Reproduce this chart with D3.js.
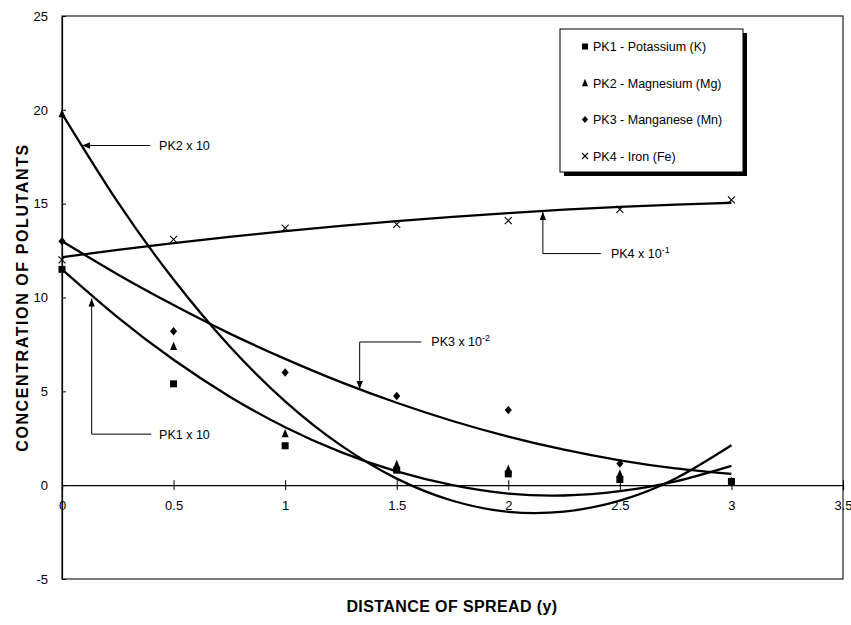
<!DOCTYPE html>
<html><head><meta charset="utf-8">
<script src="https://cdn.jsdelivr.net/npm/d3@7"></script>
<style>body{margin:0;background:#fff}svg{display:block}</style>
</head><body><svg id="c" width="851" height="625"></svg>
<script>
// ---- data ----
const xValues = [0, 0.5, 1, 1.5, 2, 2.5, 3];
const pk1Potassium = [11.5, 5.4, 2.1, 0.8, 0.6, 0.3, 0.2];
const pk2Magnesium = [19.8, 7.4, 2.75, 1.1, 0.85, 0.6, 0.2];
const pk3Manganese = [13.0, 8.2, 6.0, 4.75, 4.0, 1.15, 0.2];
const pk4Iron = [12.0, 13.1, 13.7, 13.9, 14.1, 14.7, 15.2];

// trendlines
const trendX = [0, 0.25, 0.5, 0.75, 1, 1.25, 1.5, 1.75, 2, 2.25, 2.5, 2.75, 3];
const trendPk1 = [11.5, 8.94, 6.68, 4.73, 3.09, 1.76, 0.73, 0.0, -0.45, -0.55, -0.32, 0.2, 1.03];
const trendPk2 = [19.8, 15.08, 10.96, 7.42, 4.47, 2.12, 0.35, -0.83, -1.42, -1.41, -0.82, 0.36, 2.13];
const trendPk3 = [13.0, 11.23, 9.6, 8.09, 6.73, 5.49, 4.39, 3.42, 2.59, 1.89, 1.32, 0.89, 0.6];
const trendPk4 = [12.15, 12.54, 12.9, 13.23, 13.54, 13.82, 14.07, 14.3, 14.5, 14.68, 14.83, 14.95, 15.05];

const xTicks = [0, 0.5, 1, 1.5, 2, 2.5, 3, 3.5];
const yTicks = [-5, 0, 5, 10, 15, 20, 25];
const seriesNames = ["PK1 - Potassium (K)", "PK2 - Magnesium (Mg)", "PK3 - Manganese (Mn)", "PK4 - Iron (Fe)"];
const seriesShapes = ["square", "triangle", "diamond", "cross"];
const xTitle = "DISTANCE OF SPREAD (y)";
const yTitle = "CONCENTRATION OF POLUTANTS";

const annoLabels = ["PK2 x 10", "PK1 x 10", "PK3 x 10", "PK4 x 10"];
const annoSups = ["", "", "-2", "-1"];

// ---- layout ----
const svg = d3.select("#c");
const font = "'Liberation Sans', Arial, sans-serif";
const x = d3.scaleLinear().domain([0, 3.5]).range([62, 843]);
const y = d3.scaleLinear().domain([-5, 25]).range([579, 16]);

// frame
svg.append("rect").attr("x", x(0)).attr("y", y(25)).attr("width", x(3.5) - x(0)).attr("height", y(-5) - y(25))
  .attr("fill", "none").attr("stroke", "#222").attr("stroke-width", 1.2);

// y axis
const yAxis = d3.axisLeft(y).tickValues(yTicks).tickSize(-4).tickPadding(14).tickFormat(d => String(d));
const gy = svg.append("g").attr("transform", `translate(${x(0)},0)`).call(yAxis);
gy.select(".domain").attr("stroke", "#000").attr("stroke-width", 1.2);
gy.selectAll(".tick line").attr("stroke", "#000");
gy.selectAll("text").attr("font-family", font).attr("font-size", 13).attr("fill", "#000");

// x axis at y=0
const xAxis = d3.axisBottom(x).tickValues(xTicks).tickSize(5).tickPadding(11).tickFormat(d => String(d));
const gx = svg.append("g").attr("transform", `translate(0,${y(0)})`).call(xAxis);
gx.select(".domain").attr("stroke", "#000").attr("stroke-width", 1.2);
gx.selectAll(".tick line").attr("stroke", "#000").attr("y1", -5);
gx.selectAll("text").attr("font-family", font).attr("font-size", 13).attr("fill", "#000");

// titles
svg.append("text").attr("x", 452).attr("y", 612).attr("text-anchor", "middle")
  .attr("font-family", font).attr("font-weight", "bold").attr("font-size", 16).attr("letter-spacing", 0.4)
  .text(xTitle);
svg.append("text").attr("transform", `translate(28,${(y(25) + y(-5)) / 2}) rotate(-90)`).attr("text-anchor", "middle")
  .attr("font-family", font).attr("font-weight", "bold").attr("font-size", 16).attr("letter-spacing", 1.6)
  .text(yTitle);

// trendlines
const line = d3.line().x(d => x(d[0])).y(d => y(d[1])).curve(d3.curveNatural);
[trendPk1, trendPk2, trendPk3, trendPk4].forEach(t => {
  svg.append("path").datum(trendX.map((v, i) => [v, t[i]])).attr("d", line)
    .attr("fill", "none").attr("stroke", "#000").attr("stroke-width", 2.3);
});

// markers
function drawMarker(g, shape, cx, cy, s) {
  if (shape === "square") {
    g.append("rect").attr("x", cx - s / 2).attr("y", cy - s / 2).attr("width", s).attr("height", s).attr("fill", "#000");
  } else if (shape === "triangle") {
    const h = s * 1.05;
    g.append("path").attr("d", `M${cx},${cy - h / 2 - 1}L${cx + s / 2},${cy + h / 2}L${cx - s / 2},${cy + h / 2}Z`).attr("fill", "#000");
  } else if (shape === "diamond") {
    const r = s * 0.6;
    g.append("path").attr("d", `M${cx},${cy - r}L${cx + r * 0.85},${cy}L${cx},${cy + r}L${cx - r * 0.85},${cy}Z`).attr("fill", "#000");
  } else {
    const r = s / 2;
    g.append("path").attr("d", `M${cx - r},${cy - r}L${cx + r},${cy + r}M${cx + r},${cy - r}L${cx - r},${cy + r}`)
      .attr("stroke", "#000").attr("stroke-width", 1.1).attr("fill", "none");
  }
}
const mg = svg.append("g");
[pk1Potassium, pk2Magnesium, pk3Manganese, pk4Iron].forEach((vals, si) => {
  vals.forEach((v, i) => drawMarker(mg, seriesShapes[si], x(xValues[i]), y(v), 7));
});

// annotations (data units)
const annoGeom = [
  { tip: [0.09, 18.1], corner: null, end: [0.395, 18.1], text: [0.435, 18.1] },
  { tip: [0.133, 9.95], corner: [0.133, 2.72], end: [0.4, 2.72], text: [0.435, 2.72] },
  { tip: [1.334, 5.12], corner: [1.334, 7.63], end: [1.61, 7.63], text: [1.655, 7.63] },
  { tip: [2.155, 14.55], corner: [2.155, 12.34], end: [2.415, 12.34], text: [2.46, 12.34] }
];
const ag = svg.append("g");
annoGeom.forEach((a, i) => {
  const pts = [a.tip, a.corner, a.end].filter(p => p).map(p => [x(p[0]), y(p[1])]);
  ag.append("path").attr("d", "M" + pts.map(p => p.join(",")).join("L")).attr("fill", "none")
    .attr("stroke", "#000").attr("stroke-width", 1);
  const [tx, ty] = pts[0], [nx, ny] = pts[1];
  const ang = Math.atan2(ny - ty, nx - tx);
  const L = 8, W = 3.2;
  const bx = tx + L * Math.cos(ang), by = ty + L * Math.sin(ang);
  ag.append("path").attr("d", `M${tx},${ty}L${bx - W * Math.sin(ang)},${by + W * Math.cos(ang)}L${bx + W * Math.sin(ang)},${by - W * Math.cos(ang)}Z`)
    .attr("fill", "#000");
  const t = ag.append("text").attr("x", x(a.text[0])).attr("y", y(a.text[1]) + 4.5)
    .attr("font-family", font).attr("font-size", 12.5).attr("fill", "#000").text(annoLabels[i]);
  if (annoSups[i]) t.append("tspan").attr("dy", -5).attr("font-size", 9).text(annoSups[i]);
});

// legend
const lg = svg.append("g");
lg.append("rect").attr("x", 564).attr("y", 33).attr("width", 183).attr("height", 143).attr("fill", "#000");
lg.append("rect").attr("x", 560).attr("y", 29).attr("width", 183).attr("height", 143).attr("fill", "#fff")
  .attr("stroke", "#000").attr("stroke-width", 1);
seriesNames.forEach((n, i) => {
  const cy = 46.5 + i * 36.5;
  drawMarker(lg, seriesShapes[i], 585, cy, 6);
  lg.append("text").attr("x", 593).attr("y", cy + 4.5).attr("font-family", font).attr("font-size", 12.5)
    .attr("fill", "#000").text(n);
});
</script>
</body></html>
